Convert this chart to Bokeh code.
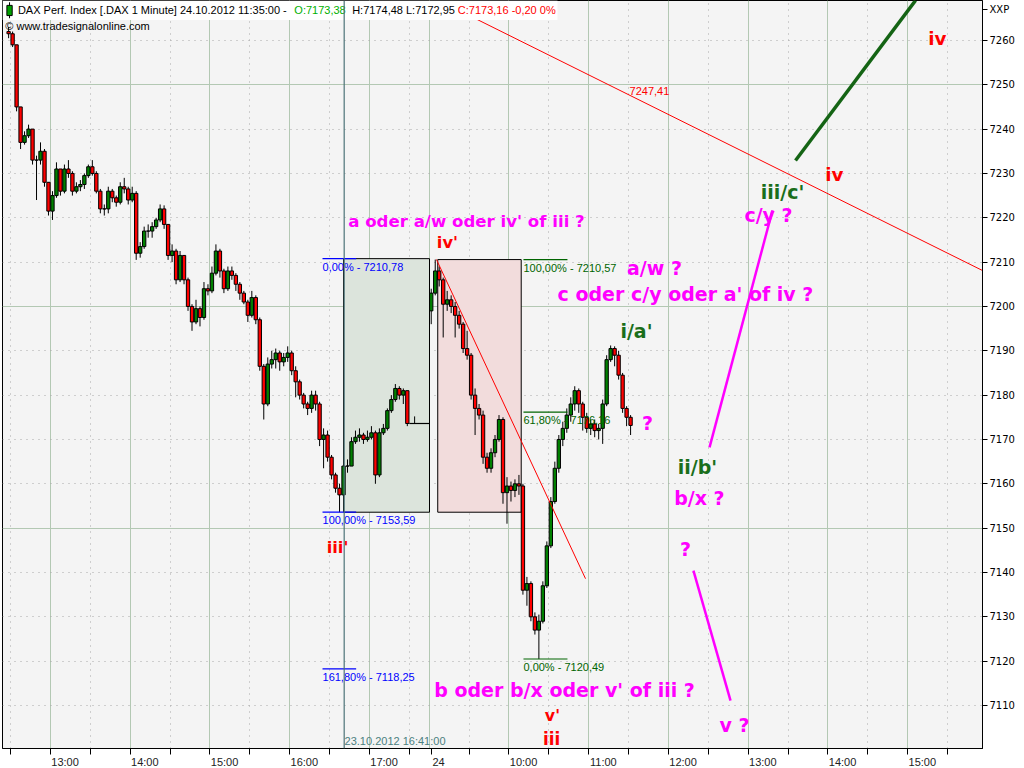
from bokeh.plotting import figure
from bokeh.models import (ColumnDataSource, FixedTicker, Grid, Span, Range1d,
                          CustomJSTickFormatter, LinearAxis)
from bokeh.embed import file_html
from bokeh.resources import INLINE
from bokeh.core.properties import value

# ---------------- data (minutes after 12:00 on 23.10; 24.10 09:00 = 345) ----------------
d23_start = 27          # 3-minute bars from 12:27
d23_open0 = 7262.0
d23_close = [7261.5, 7259, 7245, 7237, 7238.5, 7240, 7233, 7233, 7235, 7228,
             7221.5, 7225, 7231, 7226, 7231, 7230, 7226, 7227, 7227.5, 7229.5,
             7231.5, 7230, 7226, 7222, 7222, 7226, 7224.5, 7223.5, 7227, 7226.5,
             7224, 7225.5, 7212, 7213.5, 7217, 7217, 7218, 7219.5, 7222, 7218.5,
             7211.5, 7212.5, 7206, 7211.5, 7206, 7200, 7196.5, 7199.5, 7197.5, 7204,
             7203.5, 7207.5, 7212.5, 7208, 7204, 7208, 7207, 7205, 7203, 7201,
             7198, 7202, 7197, 7186.5, 7178, 7187, 7188, 7189.5, 7187.5, 7188.5,
             7189.5, 7185.5, 7183, 7180, 7178, 7177, 7180, 7178, 7170, 7171,
             7166, 7162, 7159, 7157.5, 7164, 7164, 7169.5, 7170.5, 7171, 7170,
             7170.5, 7171.5, 7162, 7171.5, 7172.5, 7176.5, 7179, 7181.5, 7180, 7181,
             7173.6]
d23_high = [7263, 7262, 7259, 7245, 7239.5, 7241, 7240, 7234, 7237, 7235.5,
            7228, 7226, 7232.5, 7231, 7232, 7233, 7230.5, 7228, 7228.5, 7230,
            7232, 7233, 7230.5, 7226.5, 7223, 7227, 7226.5, 7225, 7228, 7229,
            7227, 7227, 7226, 7214.5, 7218, 7218.5, 7219, 7220, 7223, 7222.8,
            7218.5, 7214, 7213, 7212.5, 7211.5, 7206.5, 7200.5, 7201.5, 7200, 7205.5,
            7205, 7209, 7214, 7213, 7208.5, 7209, 7209, 7207.5, 7205.5, 7203.5,
            7201.5, 7203.5, 7202.5, 7197.5, 7187, 7188.5, 7190, 7190.5, 7190, 7189.5,
            7191, 7190, 7186.5, 7183.5, 7180.5, 7178.5, 7181, 7181, 7178.5, 7172.5,
            7172, 7166.5, 7162.5, 7160, 7165, 7165.5, 7170.5, 7172, 7172.5, 7171.5,
            7172, 7173, 7172, 7172.5, 7173.5, 7177, 7180, 7182.5, 7182, 7181.5,
            7181]
d23_low = [7260.5, 7258.5, 7244, 7235.5, 7236.5, 7238, 7232, 7224, 7232, 7227,
           7220.5, 7219.5, 7224.5, 7225, 7225.5, 7229, 7225, 7225.5, 7226, 7226.5,
           7229, 7229.5, 7225.5, 7221, 7220.5, 7221, 7223.5, 7222.5, 7223, 7225.5,
           7223, 7223.5, 7210.5, 7211, 7213, 7215.5, 7215.5, 7217.5, 7219, 7217.5,
           7210.5, 7210, 7205, 7205.5, 7205, 7199, 7194.5, 7196, 7195.5, 7197,
           7202.5, 7203, 7207, 7206.5, 7203, 7203.5, 7206, 7203.5, 7201.5, 7200.5,
           7196.5, 7197.5, 7196, 7185.5, 7174.5, 7177.5, 7186, 7186, 7185.5, 7186.5,
           7187.5, 7184.5, 7179.5, 7179, 7177, 7175.5, 7176, 7176.5, 7168.5, 7163.5,
           7165, 7161, 7158, 7153.6, 7157, 7162.5, 7164, 7169, 7169.5, 7169,
           7169.5, 7170, 7160, 7161.5, 7171, 7172, 7176, 7178.5, 7179, 7178,
           7173]

# after-hours flat line 17:30-17:45
ah_x = [330, 345]
ah_y = [7173.6, 7173.6]
ah_tick_x = 334
ah_tick_y = [7173.6, 7175.2]

d24_start = 345         # 24.10 09:00
d24_open0 = 7199.0
d24_close = [7203, 7208, 7206, 7200.5, 7201.5, 7200, 7198, 7196, 7190.5, 7189,
             7180, 7177, 7175.5, 7166, 7163.5, 7167, 7170, 7174.5, 7158, 7159.5,
             7158.5, 7160, 7159.5, 7136, 7137.5, 7130, 7127, 7129, 7137, 7146,
             7156, 7163.5, 7170, 7172.5, 7175.5, 7178, 7181, 7178, 7175, 7172.5,
             7173.5, 7172, 7172.5, 7178, 7188, 7190.5, 7189, 7184.5, 7177, 7175,
             7173.16]
d24_high = [7204, 7210.57, 7209, 7206.5, 7203.5, 7202.5, 7201, 7199, 7196.5, 7194.5,
            7189.5, 7181.5, 7178, 7176.5, 7167, 7168, 7171, 7175.5, 7175, 7161.5,
            7160.5, 7161, 7162, 7160, 7139, 7138, 7131, 7130.5, 7138, 7147,
            7157, 7165, 7171, 7174, 7177, 7179.5, 7182, 7181.5, 7178.5, 7176,
            7174.5, 7174.5, 7173.5, 7179, 7189, 7191.2, 7191, 7190, 7185, 7177.5,
            7175.5]
d24_low = [7196, 7202.5, 7204.5, 7193, 7199, 7198.5, 7193, 7195, 7189.5, 7188,
           7179, 7171, 7174.5, 7164.5, 7162.5, 7162.5, 7166, 7169.5, 7155.5, 7151,
           7156, 7157, 7157.5, 7135, 7132.5, 7129, 7126, 7120.49, 7128.5, 7136.5,
           7145.5, 7155.5, 7162.5, 7168.5, 7171.5, 7174, 7176.5, 7176, 7172, 7171.5,
           7171, 7170.5, 7170, 7169, 7177.5, 7187.5, 7186.5, 7183.5, 7176, 7173,
           7171]

# axis ticks / labels
hour_ticks = [60, 120, 180, 240, 300, 345, 405, 465, 525, 585, 645, 705]
half_ticks = [30, 90, 150, 210, 270, 330, 375, 435, 495, 555, 615, 675, 735]
axis_ticks = [30, 60, 90, 120, 150, 180, 210, 240, 270, 300, 330, 347, 375, 405, 435,
              465, 495, 525, 555, 585, 615, 645, 675, 705, 735]
xlab_pos = [60, 120, 180, 240, 300, 347, 405, 465, 525, 585, 645, 705]
xlab_txt = ["13:00", "14:00", "15:00", "16:00", "17:00", "24", "10:00", "11:00",
            "12:00", "13:00", "14:00", "15:00"]
y_ticks = list(range(7110, 7261, 10))
y_solid = [7150, 7200, 7250]
y_unit_tick = 7267
y_unit_text = "XXP"

# header icon (small candle)
icon_m = 29.2
icon_body = (7265.6, 7267.9)
icon_wick = (7265.0, 7268.6)

# fibonacci boxes and levels
box_green = dict(left=280.5, right=345.2, bottom=7153.59, top=7210.78)
box_pink = dict(left=351.4, right=414.2, bottom=7153.59, top=7210.57)
fib_blue_levels = [7210.78, 7153.59, 7118.25]
fib_blue_text = ["0,00% - 7210,78", "100,00% - 7153,59", "161,80% - 7118,25"]
fib_blue_x = [264.7, 290.0]
fib_green_levels = [7210.57, 7176.16, 7120.49]
fib_green_text = ["100,00% - 7210,57", "61,80% - 7176,16", "0,00% - 7120,49"]
fib_green_x = [415.9, 449.0]

cursor_m = 281   # 23.10.2012 16:41

# drawn trend lines: (x0, x1), (y0, y1)
red_fan = ([350.4, 462.6], [7210.6, 7138.6])
red_long = ([355.0, 761.3], [7268.6, 7208.1])
green_thick = ([620.6, 710.9], [7232.9, 7269.0])
mag_up = ([555.9, 603.3], [7168.2, 7221.7])
mag_down = ([543.8, 571.7], [7140.4, 7111.1])

# wave labels
mag_labels = ["a oder a/w oder iv' of iii ?", "a/w ?", "c oder c/y oder a' of iv ?", "?",
              "b/x ?", "?", "b oder b/x oder v' of iii ?", "v ?", "c/y ?"]
mag_x = [373.0, 514.5, 537.8, 509.2, 548.3, 537.8, 446.8, 574.7, 600.3]
mag_y = [7219.2, 7208.6, 7202.7, 7173.6, 7156.9, 7145.2, 7113.6, 7105.7, 7220.7]
red_labels = ["iv'", "iii'", "v'", "iii", "iv", "iv"]
red_x = [358.7, 276.0, 437.7, 437.0, 649.9, 727.4]
red_y = [7214.4, 7145.6, 7107.7, 7102.5, 7229.8, 7260.5]
grn_labels = ["i/a'", "ii/b'", "iii/c'"]
grn_x = [500.9, 546.8, 610.8]
grn_y = [7194.4, 7163.7, 7225.9]

# text sizes (style)
mag_sizes = ["16.6px", "19px", "19px", "19px", "19px", "19px", "19px", "19px", "19px"]
red_sizes = ["16.3px", "16.3px", "15.8px", "16.8px", "18.3px", "18.3px"]
grn_sizes = ["19px", "19px", "19px"]

# ---------------- figure ----------------
p = figure(frame_width=980, frame_height=748, x_range=Range1d(23.9, 761.3),
           y_range=Range1d(7100.3, 7269.0), output_backend="svg", toolbar_location=None,
           y_axis_location="right", min_border_left=2, min_border_right=42,
           min_border_top=0, min_border_bottom=20)
p.background_fill_color = "#f4f4f4"
p.border_fill_color = "white"
p.outline_line_color = "black"
p.outline_line_width = 1
p.xgrid.visible = False
p.ygrid.visible = False

SOLID = "#b3c8b3"
DOT = "#a8a8a8"
p.add_layout(Grid(dimension=0, ticker=FixedTicker(ticks=hour_ticks), grid_line_color=SOLID))
p.add_layout(Grid(dimension=0, ticker=FixedTicker(ticks=half_ticks), grid_line_color=DOT,
                  grid_line_dash="1 5"))
p.add_layout(Grid(dimension=1, ticker=FixedTicker(ticks=y_solid), grid_line_color=SOLID))
p.add_layout(Grid(dimension=1, ticker=FixedTicker(ticks=[t for t in y_ticks if t not in y_solid]),
                  grid_line_color=DOT, grid_line_dash="1 5"))

# x axis: tick marks only
xa = p.xaxis[0]
xa.ticker = FixedTicker(ticks=axis_ticks)
xa.formatter = CustomJSTickFormatter(code="return ''")
xa.major_label_text_font_size = "0px"
xa.major_label_standoff = 0
xa.major_tick_out = 6
xa.major_tick_in = 0
xa.minor_tick_out = 0
xa.minor_tick_in = 0
xa.axis_line_color = "black"
xa.major_tick_line_color = "black"

# x axis labels: placed just right of the hour ticks
lab_ticks = []
lab_over = {}
for m, t in zip(xlab_pos, xlab_txt):
    k = m + (5 if len(t) <= 2 else 11)
    lab_ticks.append(k)
    lab_over[k] = t
xl = LinearAxis(ticker=FixedTicker(ticks=lab_ticks), major_label_overrides=lab_over,
                major_tick_out=0, major_tick_in=0, minor_tick_out=0, minor_tick_in=0,
                axis_line_color=None, major_tick_line_color=None, minor_tick_line_color=None,
                major_label_standoff=1, major_label_text_font="Liberation Sans",
                major_label_text_font_size="11px", major_label_text_color="#222222")
p.add_layout(xl, "below")

ya = p.yaxis[0]
ya.ticker = FixedTicker(ticks=y_ticks + [y_unit_tick])
ya.major_label_overrides = {y_unit_tick: y_unit_text}
ya.major_tick_out = 5
ya.major_tick_in = 0
ya.minor_tick_out = 0
ya.minor_tick_in = 0
ya.major_label_standoff = 2
ya.major_label_text_font = "DejaVu Sans"
ya.major_label_text_font_size = "10px"
ya.major_label_text_color = "black"
ya.axis_line_color = "black"

# boxes
p.quad(**{k: [v] for k, v in box_green.items()}, fill_color="#dce4dc", line_color="black",
       line_width=1)
p.quad(**{k: [v] for k, v in box_pink.items()}, fill_color="#f2dcdc", line_color="black",
       line_width=1)

# cursor line
p.add_layout(Span(location=cursor_m, dimension="height", line_color="#4c7378", line_width=1.2))


def candles(start, open0, close, high, low):
    n = len(close)
    t = [start + 1.5 + 3 * i for i in range(n)]
    o = [open0] + close[:-1]
    hi = [max(h, a, b) for h, a, b in zip(high, o, close)]
    lo = [min(l, a, b) for l, a, b in zip(low, o, close)]
    col = ["#008000" if c >= a else "#ff0000" for a, c in zip(o, close)]
    src = ColumnDataSource(dict(t=t, o=o, c=close, hi=hi, lo=lo, col=col))
    p.segment(x0="t", y0="hi", x1="t", y1="lo", source=src, line_color="black", line_width=1)
    p.vbar(x="t", width=2.5, top="o", bottom="c", source=src, fill_color="col",
           line_color="black", line_width=1)


candles(d23_start, d23_open0, d23_close, d23_high, d23_low)
candles(d24_start, d24_open0, d24_close, d24_high, d24_low)
p.line(ah_x, ah_y, line_color="black", line_width=1.2)
p.segment(x0=[ah_tick_x], y0=[ah_tick_y[0]], x1=[ah_tick_x], y1=[ah_tick_y[1]], line_color="black")

# fibonacci level lines + text
for lv in fib_blue_levels:
    p.line(fib_blue_x, [lv, lv], line_color="#0000ff", line_width=1.2)
p.text(x=[fib_blue_x[0]] * 3, y=fib_blue_levels, text=fib_blue_text, text_color="#0000ff",
       text_font=value("Liberation Sans"), text_font_size="11px", text_baseline="top",
       y_offset=2)
for lv in fib_green_levels:
    p.line(fib_green_x, [lv, lv], line_color="#006400", line_width=1.2)
p.text(x=[fib_green_x[0]] * 3, y=fib_green_levels, text=fib_green_text, text_color="#006400",
       text_font=value("Liberation Sans"), text_font_size="11px", text_baseline="top",
       y_offset=2)

# trend lines
p.line(*red_fan, line_color="#ff0000", line_width=1)
p.line(*red_long, line_color="#ff0000", line_width=1)
p.line(*green_thick, line_color="#146414", line_width=3.5)
p.line(*mag_up, line_color="#ff00ff", line_width=2.5)
p.line(*mag_down, line_color="#ff00ff", line_width=2.5)

p.text(x=[510.7], y=[7248.7], text=["7247,41"], text_color="#ff0000",
       text_font=value("Liberation Sans"), text_font_size="11px", text_align="center",
       text_baseline="middle")
p.text(x=[cursor_m + 0.3], y=[7102.1], text=["23.10.2012 16:41:00"], text_color="#4c8080",
       text_font=value("Liberation Sans"), text_font_size="11px", text_baseline="middle")

for labels, xs, ys, sizes, colr in [(mag_labels, mag_x, mag_y, mag_sizes, "#ff00ff"),
                                    (red_labels, red_x, red_y, red_sizes, "#ff0000"),
                                    (grn_labels, grn_x, grn_y, grn_sizes, "#1a6e1a")]:
    src = ColumnDataSource(dict(x=xs, y=ys, t=labels, s=sizes))
    p.text(x="x", y="y", text="t", source=src, text_color=colr,
           text_font=value("DejaVu Sans"), text_font_style="bold", text_font_size="s",
           text_align="center", text_baseline="middle")

# header
p.quad(left=[23.9], right=[441.5], bottom=[7264.6], top=[7269.0], fill_color="white",
       line_color=None)
p.segment(x0=[icon_m], y0=[icon_wick[0]], x1=[icon_m], y1=[icon_wick[1]], line_color="black")
p.vbar(x=[icon_m], width=4.0, bottom=[icon_body[0]], top=[icon_body[1]], fill_color="#00a000",
       line_color="black")
hdr_parts = ["DAX Perf. Index [.DAX  1 Minute] 24.10.2012 11:35:00 - ", "O:7173,38",
             "H:7174,48 L:7172,95", "C:7173,16 -0,20 0%"]
hdr_x = [35.5, 243.5, 287.0, 366.5]
hdr_col = ["black", "#00b000", "black", "#ff0000"]
p.text(x=hdr_x, y=[7266.8] * 4, text=hdr_parts, text_color=hdr_col,
       text_font=value("Liberation Sans"), text_font_size="11px", text_baseline="middle")
p.text(x=[26.0], y=[7263.2], text=["\u00a9 www.tradesignalonline.com"], text_color="black",
       text_font=value("Liberation Sans"), text_font_size="11px", text_baseline="middle")

open("out.html", "w").write(file_html(p, INLINE))
